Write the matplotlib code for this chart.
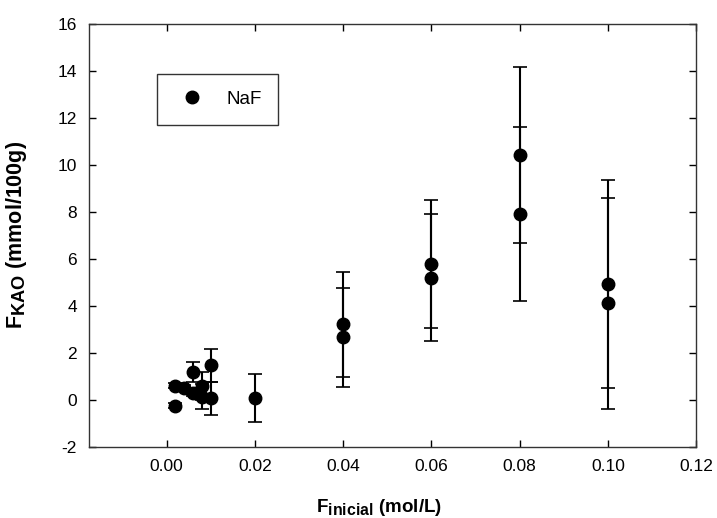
import matplotlib
matplotlib.use("Agg")
import matplotlib.pyplot as plt
from matplotlib.lines import Line2D
import matplotlib._mathtext as _mt

plt.rcParams['font.family'] = ['Liberation Sans', 'DejaVu Sans']
plt.rcParams['mathtext.fontset'] = 'custom'
plt.rcParams['mathtext.rm'] = 'Liberation Sans'
plt.rcParams['mathtext.bf'] = 'Liberation Sans:bold'
plt.rcParams['mathtext.it'] = 'Liberation Sans:italic'
try:
    _mt.SHRINK_FACTOR = 0.85
except Exception:
    pass

# Data: F inicial (mol/L), F KAO (mmol/100g), standard deviation
f_inicial = [0.002, 0.002, 0.004, 0.006, 0.006, 0.008, 0.008, 0.010, 0.010,
             0.020, 0.040, 0.040, 0.060, 0.060, 0.080, 0.080, 0.100, 0.100]
f_kao = [0.61, -0.24, 0.50, 1.20, 0.28, 0.60, 0.14, 1.48, 0.07,
         0.08, 3.22, 2.66, 5.79, 5.20, 10.42, 7.91, 4.94, 4.12]
f_err = [0.10, 0.10, 0.12, 0.43, 0.12, 0.60, 0.53, 0.71, 0.71,
         1.02, 2.24, 2.12, 2.72, 2.70, 3.76, 3.72, 4.41, 4.49]

x_ticks = [0.00, 0.02, 0.04, 0.06, 0.08, 0.10, 0.12]
y_ticks = [-2, 0, 2, 4, 6, 8, 10, 12, 14, 16]

fig = plt.figure(figsize=(7.17, 5.18), dpi=100)
ax = fig.add_axes([0.124, 0.137, 0.847, 0.817])

ax.errorbar(f_inicial, f_kao, yerr=f_err, fmt='o', color='black',
            ecolor='black', elinewidth=1.5, capsize=5, capthick=1.2,
            markersize=9, zorder=3)

ax.set_xlim(-0.0176, 0.12)
ax.set_ylim(-2, 16)
ax.set_xticks(x_ticks)
ax.set_xticklabels([f"{v:.2f}" for v in x_ticks])
ax.set_yticks(y_ticks)
ax.set_yticklabels([str(v) for v in y_ticks])
ax.tick_params(direction='in', top=True, right=True, length=5, width=1,
               labelsize=12.5, pad=8.5)
for s in ax.spines.values():
    s.set_linewidth(1.0)
    s.set_color('#333333')

ax.set_xlabel(r'$\mathbf{F_{inicial}\ (mol/L)}$', fontsize=13.5)
ax.set_ylabel(r'$\mathbf{F_{KAO}\ (mmol/100g)}$', fontsize=15.5)
ax.xaxis.set_label_coords(0.478, -0.117)
ax.yaxis.set_label_coords(-0.098, 0.5)

handle = Line2D([], [], marker='o', ls='none', color='black', markersize=9)
leg = ax.legend([handle], ['NaF'], loc='upper left',
                bbox_to_anchor=(157 / 717, 1 - 74 / 518),
                bbox_transform=fig.transFigure,
                frameon=True, fancybox=False, edgecolor='black',
                fontsize=13.5, handletextpad=0.88, borderpad=0.9,
                borderaxespad=0, handlelength=1.9, numpoints=1)
leg.get_frame().set_linewidth(1.0)

fig.savefig('out.png', dpi=100)
